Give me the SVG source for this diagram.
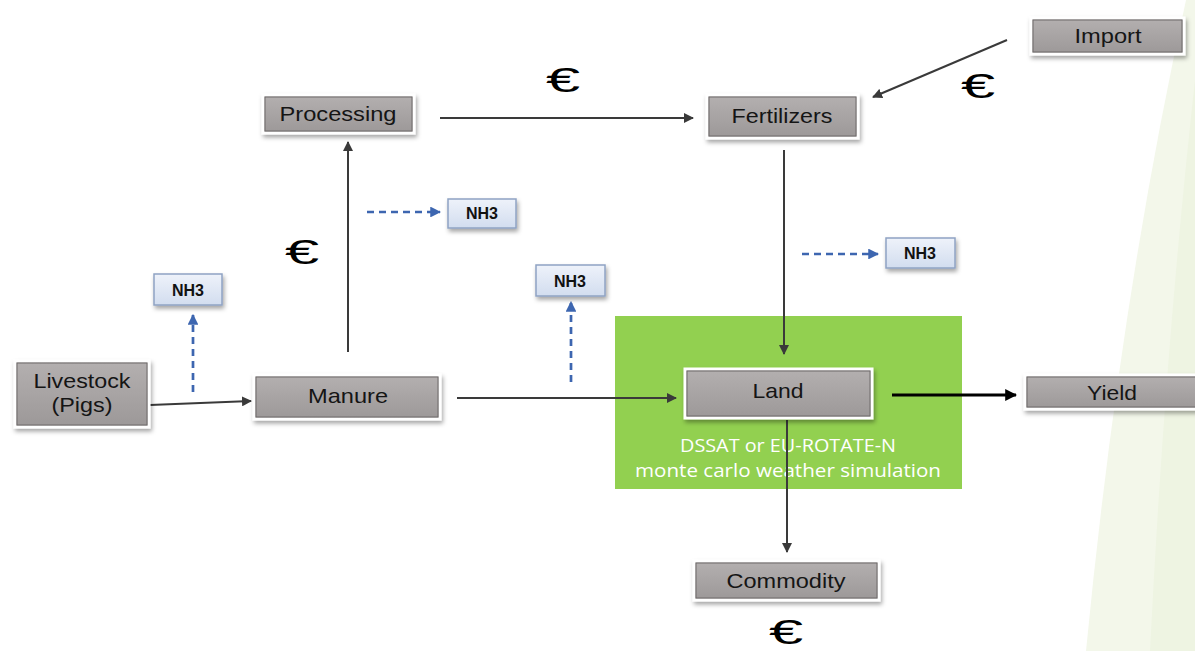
<svg xmlns="http://www.w3.org/2000/svg" width="1195" height="651" viewBox="0 0 1195 651">
<defs>
<linearGradient id="gg" x1="0" y1="0" x2="0" y2="1"><stop offset="0" stop-color="#b4b0b0"/><stop offset="1" stop-color="#9c9898"/></linearGradient>
<linearGradient id="bg" x1="0" y1="0" x2="0" y2="1"><stop offset="0" stop-color="#eef2fa"/><stop offset="1" stop-color="#d2ddef"/></linearGradient>
<filter id="sh" x="-10%" y="-20%" width="130%" height="160%"><feDropShadow dx="1.5" dy="3" stdDeviation="2" flood-color="#000" flood-opacity="0.35"/></filter>
<marker id="ah" viewBox="0 0 10 10" refX="9" refY="5" markerWidth="5" markerHeight="5" orient="auto"><path d="M0,0 L10,5 L0,10 z" fill="#3a3a3a"/></marker>
<marker id="ahk" viewBox="0 0 10 10" refX="9" refY="5" markerWidth="4" markerHeight="4" orient="auto"><path d="M0,0 L10,5 L0,10 z" fill="#000"/></marker>
<marker id="ab" viewBox="0 0 10 10" refX="9" refY="5" markerWidth="4" markerHeight="4" orient="auto"><path d="M0,0 L10,5 L0,10 z" fill="#3d66b0"/></marker>
</defs>
<style>
.nb{fill:url(#gg);stroke:#ffffff;stroke-width:3;filter:url(#sh)}
.ni{fill:none;stroke:#6e6a6a;stroke-width:1}
.nt{font-family:"Liberation Sans",Arial,sans-serif;font-size:21px;fill:#151515;text-anchor:middle}
.hb{fill:url(#bg);stroke:#8fa3c3;stroke-width:1.5;filter:url(#sh)}
.ht{font-family:"Liberation Sans",Arial,sans-serif;font-size:16px;font-weight:bold;fill:#111;text-anchor:middle}
.c{stroke:#3a3a3a;stroke-width:2;fill:none;marker-end:url(#ah)}
.d{stroke:#3d66b0;stroke-width:2.7;fill:none;stroke-dasharray:7 5;marker-end:url(#ab)}
.eu{font-family:"Liberation Sans",Arial,sans-serif;font-size:35px;fill:#000;text-anchor:middle}
.gt{font-family:"Open Sans","Liberation Sans",sans-serif;font-size:19px;fill:#ffffff;text-anchor:middle}
</style>
<rect width="1195" height="651" fill="#ffffff"/>
<path d="M1186,0 L1195,0 L1195,651 L1086,651 Q1120,300 1186,0 Z" fill="#f3f7ea"/>
<path d="M1195,80 L1195,651 L1150,651 Q1165,350 1195,80 Z" fill="#eef4e2"/>

<g id="green-area">
<rect x="615" y="316" width="347" height="173" fill="#92d050"/>
<text class="gt" x="788" y="452" textLength="216" lengthAdjust="spacingAndGlyphs">DSSAT or EU-ROTATE-N</text>
<text class="gt" x="788" y="477" textLength="306" lengthAdjust="spacingAndGlyphs">monte carlo weather simulation</text>
</g>

<g id="connectors">
<path class="c" d="M150,405 L251,401"/>
<path class="c" d="M348,352 L348,142"/>
<path class="c" d="M440,118 L693,118"/>
<path class="c" d="M1007,40 L873,97"/>
<path class="c" d="M784,150 L784,354"/>
<path class="c" d="M457,398 L676,398"/>
<path class="c" d="M787,420 L787,552"/>
<path d="M892,395 L1016,395" stroke="#000" stroke-width="3" fill="none" marker-end="url(#ahk)"/>
<path class="d" d="M193,392 L193,315"/>
<path class="d" d="M367,212 L440,212"/>
<path class="d" d="M571,382 L571,302"/>
<path class="d" d="M802,254 L878,254"/>
</g>

<g id="livestock"><rect class="nb" x="15" y="361" width="134" height="66"/><rect class="ni" x="17" y="363" width="130" height="62"/>
<text class="nt" x="82" y="388" textLength="97" lengthAdjust="spacingAndGlyphs">Livestock</text><text class="nt" x="82" y="412" textLength="61" lengthAdjust="spacingAndGlyphs">(Pigs)</text></g>
<g id="manure"><rect class="nb" x="254" y="375" width="186" height="44"/><rect class="ni" x="256" y="377" width="182" height="40"/>
<text class="nt" x="348" y="403" textLength="80" lengthAdjust="spacingAndGlyphs">Manure</text></g>
<g id="processing"><rect class="nb" x="263" y="95" width="151" height="38"/><rect class="ni" x="265" y="97" width="147" height="34"/>
<text class="nt" x="338" y="121" textLength="117" lengthAdjust="spacingAndGlyphs">Processing</text></g>
<g id="fertilizers"><rect class="nb" x="707" y="95" width="151" height="43"/><rect class="ni" x="709" y="97" width="147" height="39"/>
<text class="nt" x="782" y="123" textLength="101" lengthAdjust="spacingAndGlyphs">Fertilizers</text></g>
<g id="import"><rect class="nb" x="1031" y="18" width="153" height="36"/><rect class="ni" x="1033" y="20" width="149" height="32"/>
<text class="nt" x="1108" y="43" textLength="67" lengthAdjust="spacingAndGlyphs">Import</text></g>
<g id="land"><rect class="nb" x="685" y="369" width="187" height="49"/><rect class="ni" x="687" y="371" width="183" height="45"/>
<text class="nt" x="778" y="398" textLength="51" lengthAdjust="spacingAndGlyphs">Land</text></g>
<g id="yield"><rect class="nb" x="1025" y="375" width="175" height="34"/><rect class="ni" x="1027" y="377" width="171" height="30"/>
<text class="nt" x="1112" y="400" textLength="50" lengthAdjust="spacingAndGlyphs">Yield</text></g>
<g id="commodity"><rect class="nb" x="694" y="561" width="185" height="39"/><rect class="ni" x="696" y="563" width="181" height="35"/>
<text class="nt" x="786" y="588" textLength="119" lengthAdjust="spacingAndGlyphs">Commodity</text></g>

<g id="nh3-1"><rect class="hb" x="154" y="274" width="68" height="31"/><text class="ht" x="188" y="296">NH3</text></g>
<g id="nh3-2"><rect class="hb" x="448" y="199" width="68" height="29"/><text class="ht" x="482" y="219">NH3</text></g>
<g id="nh3-3"><rect class="hb" x="536" y="265" width="69" height="31"/><text class="ht" x="570" y="287">NH3</text></g>
<g id="nh3-4"><rect class="hb" x="886" y="238" width="69" height="30"/><text class="ht" x="920" y="259">NH3</text></g>

<g id="euros">
<text class="eu" transform="translate(563,92) scale(1.75,1)">€</text>
<text class="eu" transform="translate(978,98) scale(1.75,1)">€</text>
<text class="eu" transform="translate(302,264) scale(1.75,1)">€</text>
<text class="eu" transform="translate(786,644) scale(1.75,1)">€</text>
</g>
</svg>
